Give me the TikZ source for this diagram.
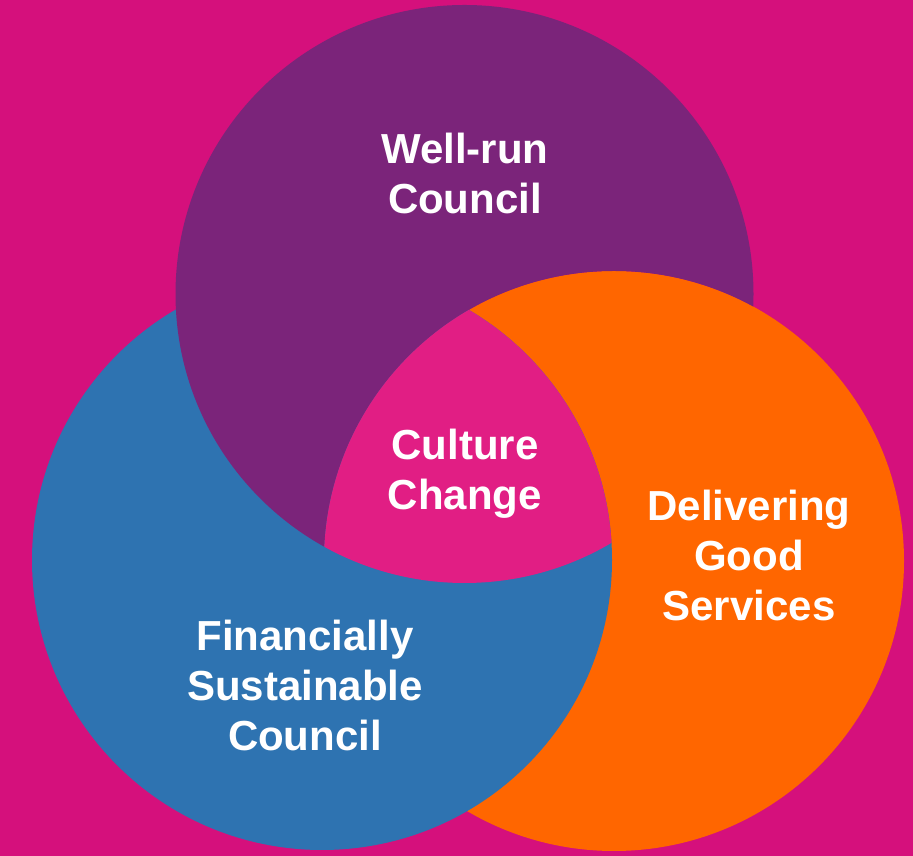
\documentclass[tikz,border=0pt]{standalone}
\usepackage{fontspec}
\setmainfont{Liberation Sans}
\usepackage{tikz}
\usetikzlibrary{positioning}
\usepackage{xcolor}
\definecolor{ccmagenta}{RGB}{213,16,124}
\definecolor{ccpurple}{RGB}{123,36,122}
\definecolor{ccblue}{RGB}{46,115,177}
\definecolor{ccorange}{RGB}{255,102,0}
\definecolor{ccpink}{RGB}{225,30,132}
\tikzstyle{ringtext} = [text=white, font=\bfseries\fontsize{42}{50}\selectfont, align=center, inner sep=0pt]

\begin{document}
\begin{tikzpicture}[x=1pt, y=1pt]
\useasboundingbox (0,0) rectangle (913,856);
\fill[ccmagenta] (0,0) rectangle (913,856);
% Circles
\coordinate (run) at (464.5,562);
\coordinate (fin) at (322,296);
\coordinate (srv) at (614,295);
\fill[ccorange] (srv) circle (290pt);
\fill[ccblue] (fin) circle (290pt);
\begin{scope}
\clip (run) circle (289pt);
\fill[ccpurple, even odd rule] (0,0) rectangle (913,856) (srv) circle (290pt);
\end{scope}
% Overlap of all three
\begin{scope}
\clip (run) circle (289pt);
\clip (srv) circle (290pt);
\fill[ccpink] (fin) circle (290pt);
\end{scope}

% Labels
\node[ringtext] (wellrun) at (465,683) {Well-run\\Council};
\node[ringtext] (culture) at (465,382) {Culture\\Change};
\node[ringtext] (deliver) at (749,301) {Delivering\\Good\\Services};
\node[ringtext] (finance) at (305,171) {Financially\\Sustainable\\Council};
\end{tikzpicture}
\end{document}
